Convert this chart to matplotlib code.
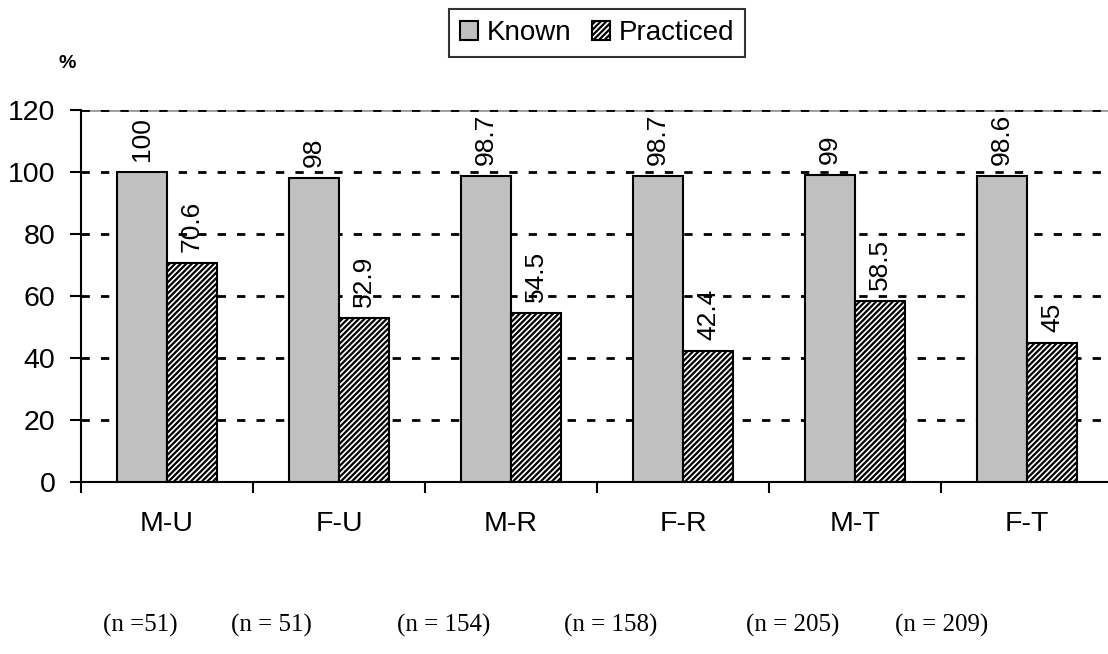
import matplotlib
matplotlib.use("Agg")
import matplotlib.pyplot as plt
import numpy as np

categories = ["M-U", "F-U", "M-R", "F-R", "M-T", "F-T"]
known = [100, 98, 98.7, 98.7, 99, 98.6]
practiced = [70.6, 52.9, 54.5, 42.4, 58.5, 45]
known_labels = ["100", "98", "98.7", "98.7", "99", "98.6"]
practiced_labels = ["70.6", "52.9", "54.5", "42.4", "58.5", "45"]
n_labels = ["(n =51)", "(n = 51)", "(n = 154)", "(n = 158)", "(n = 205)", "(n = 209)"]
n_label_x = [140, 271, 444, 611, 793, 942]
yticks = [0, 20, 40, 60, 80, 100, 120]

plt.rcParams['font.family'] = ['Liberation Sans', 'DejaVu Sans']
plt.rcParams['hatch.linewidth'] = 1.6

W, H = 1108, 654
fig = plt.figure(figsize=(W / 100, H / 100), dpi=100)
left, right, top, bottom = 81, 1113, 110, 482
ax = fig.add_axes([left / W, (H - bottom) / H, (right - left) / W, (bottom - top) / H])

x = np.arange(len(categories))
bw = 0.29
b1 = ax.bar(x - bw / 2, known, bw, color="#C0C0C0", edgecolor="black", linewidth=1.5, label="Known", zorder=3)
b2 = ax.bar(x + bw / 2, practiced, bw, color="white", edgecolor="black", hatch="//////", linewidth=1.5, label="Practiced", zorder=3)

for xi, v, lab in zip(x - bw / 2, known, known_labels):
    ax.text(xi, v + 3.5, lab, rotation=90, ha="center", va="bottom", fontsize=19, zorder=4)
for xi, v, lab in zip(x + bw / 2, practiced, practiced_labels):
    ax.text(xi, v + 3.5, lab, rotation=90, ha="center", va="bottom", fontsize=19, zorder=4)

ax.set_xlim(-0.5, len(categories) - 0.5)
ax.set_ylim(0, 120)
ax.set_yticks(yticks)
ax.set_yticklabels([str(t) for t in yticks], fontsize=20.5)
for t in yticks[1:]:
    ax.axhline(t, color="black", linestyle=(0, (3, 4)), linewidth=2, zorder=1)
ax.axhline(120, color="#999999", linewidth=2, zorder=0.5)

ax.set_xticks(np.arange(len(categories) + 1) - 0.5, minor=False)
ax.set_xticklabels([])
ax.set_xticks(x, minor=True)
ax.set_xticklabels(categories, minor=True, fontsize=20.5)
ax.tick_params(axis="x", which="major", length=8, width=1.5, direction="out")
ax.tick_params(axis="x", which="minor", length=0, pad=21)
ax.tick_params(axis="y", length=8, width=1.5, direction="out", pad=10.5)

for s in ["top", "right"]:
    ax.spines[s].set_visible(False)
ax.spines["left"].set_linewidth(1.5)
ax.spines["bottom"].set_linewidth(1.5)

leg = fig.legend(handles=[b1, b2], labels=["Known", "Practiced"], loc="center",
                 bbox_to_anchor=(597 / W, 1 - 33 / H), ncol=2, fontsize=20,
                 frameon=True, fancybox=False, edgecolor="black",
                 handlelength=0.65, handleheight=0.65, handletextpad=0.3,
                 columnspacing=0.75, borderpad=0.4, borderaxespad=0)
leg.get_frame().set_linewidth(1.5)

fig.text(67 / W, 1 - 63 / H, "%", fontsize=14, fontweight="bold", ha="center", va="center")

for xl, lab in zip(n_label_x, n_labels):
    fig.text(xl / W, 1 - 625 / H, lab, fontsize=18, ha="center", va="center",
             family=["Liberation Serif", "DejaVu Serif"])

fig.savefig("out.png", dpi=100)
